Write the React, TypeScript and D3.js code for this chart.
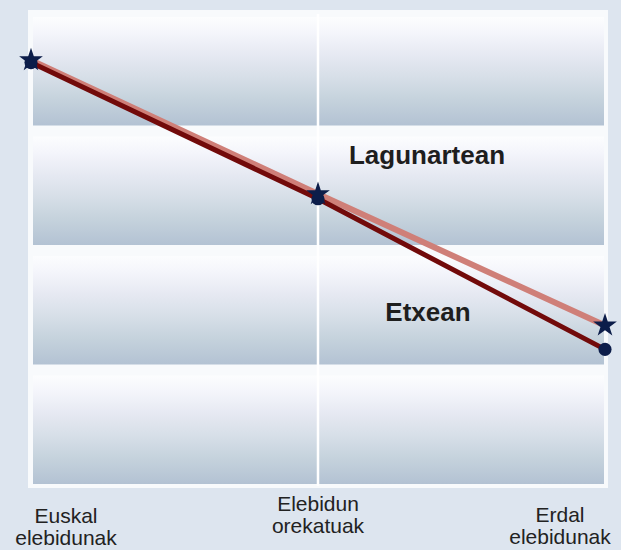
import React from 'react';
import * as d3 from 'd3';

const categories = ['Euskal elebidunak', 'Elebidun orekatuak', 'Erdal elebidunak'];
const categoryLines = [['Euskal', 'elebidunak'], ['Elebidun', 'orekatuak'], ['Erdal', 'elebidunak']];
const lagunartean = [89.5, 61.5, 34];
const etxean = [89, 60.5, 29];
const bandEdges = [0, 25, 50, 75, 100];

const W = 621;
const H = 550;

export default function App() {
  const x = d3.scalePoint<string>().domain(categories).range([31, 605]);
  const y = d3.scaleLinear().domain([0, 100]).range([488, 10]);

  const line = d3.line<number>()
    .x((d, i) => x(categories[i]) as number)
    .y((d) => y(d));

  const star = d3.symbol().type(d3.symbolStar).size(175)();
  const dot = d3.symbol().type(d3.symbolCircle).size(135)();

  // baseline of first label line per category
  const labelTop = [523, 511, 522];

  return (
    <svg width={W} height={H} style={{ position: 'absolute', left: 0, top: 0 }}
      fontFamily="'Liberation Sans', Arial, sans-serif">
      <defs>
        <linearGradient id="band" x1="0" y1="0" x2="0" y2="1">
          <stop offset="0" stopColor="#fcfdfe" />
          <stop offset="0.15" stopColor="#f4f5fb" />
          <stop offset="0.35" stopColor="#e6e9f2" />
          <stop offset="0.55" stopColor="#d7dfe8" />
          <stop offset="0.75" stopColor="#c6d3dd" />
          <stop offset="1" stopColor="#b3c2d3" />
        </linearGradient>
      </defs>
      <rect width={W} height={H} fill="#dde5ef" />
      <rect x={28} y={y(100)} width={580} height={y(0) - y(100)} fill="#f8fafc" />
      {bandEdges.slice(0, -1).map((lo, i) => {
        const hi = bandEdges[i + 1];
        return (
          <rect key={i} x={33} width={571} y={y(hi) + 7} height={y(lo) - y(hi) - 11} fill="url(#band)" />
        );
      })}
      <line x1={x(categories[1])} x2={x(categories[1])} y1={y(100) + 4} y2={y(0) - 2} stroke="#ffffff" strokeWidth={2.5} />

      <path d={line(lagunartean) || ''} fill="none" stroke="#cf7f78" strokeWidth={6} strokeLinejoin="round" />
      <path d={line(etxean) || ''} fill="none" stroke="#720a0a" strokeWidth={5} strokeLinejoin="round" />

      {etxean.map((v, i) => (
        <path key={'c' + i} d={dot || ''} transform={`translate(${x(categories[i])},${y(v)})`} fill="#0c1d4a" />
      ))}
      {lagunartean.map((v, i) => (
        <path key={'s' + i} d={star || ''} transform={`translate(${x(categories[i])},${y(v)})`} fill="#0c1d4a" />
      ))}

      <text x={427} y={164} textAnchor="middle" fontWeight="bold" fontSize={26} fill="#1e1e1e">Lagunartean</text>
      <text x={428} y={321} textAnchor="middle" fontWeight="bold" fontSize={26} fill="#1e1e1e">Etxean</text>

      {categoryLines.map((lines, i) => {
        const cx = Math.max(66, Math.min(560, x(categories[i]) as number));
        return (
          <text key={i} x={cx} y={labelTop[i]} textAnchor="middle" fontSize={21} fill="#222">
            {lines.map((t, j) => (
              <tspan key={j} x={cx} dy={j === 0 ? 0 : 22}>{t}</tspan>
            ))}
          </text>
        );
      })}
    </svg>
  );
}
